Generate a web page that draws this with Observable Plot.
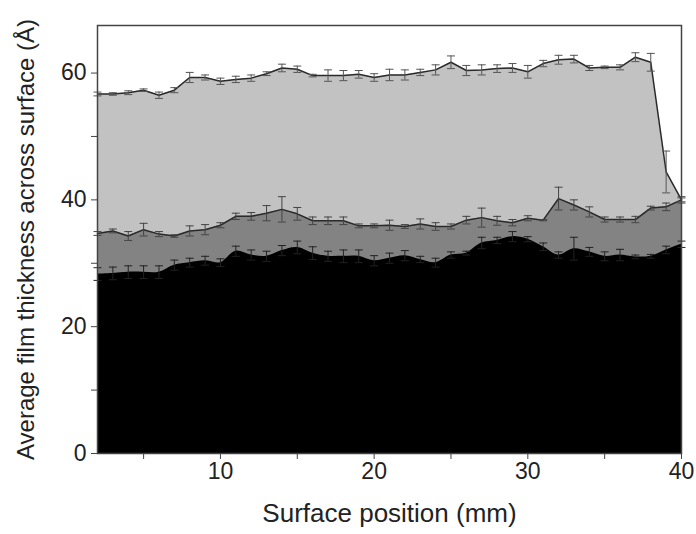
<!DOCTYPE html>
<html><head><meta charset="utf-8">
<script src="https://cdn.jsdelivr.net/npm/d3@7"></script>
<script src="https://cdn.jsdelivr.net/npm/@observablehq/plot@0.6"></script>
<style>body{margin:0;background:#fff} #chart svg{display:block}</style>
</head><body><div id="chart"></div>
<script>
const positions = [2,3,4,5,6,7,8,9,10,11,12,13,14,15,16,17,18,19,20,21,22,23,24,25,26,27,28,29,30,31,32,33,34,35,36,37,38,39,40];
const totalValues = [56.7,56.7,56.9,57.3,56.5,57.3,59.3,59.3,58.7,59.0,59.2,59.9,60.8,60.6,59.6,59.6,59.6,59.8,59.3,59.7,59.7,60.1,60.5,61.7,60.4,60.5,60.7,60.8,60.2,61.5,62.1,62.2,60.8,60.9,60.9,62.5,61.7,44.4,40.0];
const totalErrors = [0.3,0.2,0.3,0.2,0.5,0.4,0.8,0.4,0.5,0.5,0.5,0.3,0.6,0.5,0.2,0.9,0.8,0.6,0.6,0.9,0.8,0.5,0.8,1.0,0.8,0.8,0.6,0.7,1.0,0.5,0.7,0.6,0.4,0.2,0.4,0.7,1.4,3.3,0.3];
const middleValues = [34.7,35.1,34.3,35.3,34.6,34.3,35.1,35.3,36.0,37.4,37.4,37.9,38.5,37.8,36.7,36.7,36.7,35.9,35.9,36.0,35.8,36.2,35.8,35.8,36.8,37.2,36.7,36.4,37.1,36.8,40.2,39.2,38.1,36.9,36.9,36.9,38.7,38.9,40.0];
const middleErrors = [0.3,0.3,0.7,1.0,0.4,0.2,0.8,0.8,0.4,0.5,0.6,1.2,2.0,1.0,0.6,0.6,0.6,0.3,0.3,0.8,0.3,0.8,0.6,0.4,0.6,1.5,0.7,0.5,0.4,0.1,1.8,0.8,0.8,0.4,0.4,0.5,0.3,0.6,0.5];
const bottomValues = [28.3,28.4,28.6,28.6,28.6,29.7,30.1,30.4,30.1,31.9,31.3,31.1,32.0,32.5,31.6,31.1,31.1,31.1,30.4,30.8,31.2,30.6,30.1,31.3,31.6,33.2,33.6,34.2,33.8,32.6,31.3,32.3,31.8,31.1,31.3,31.0,31.1,32.1,33.0];
const bottomErrors = [1.0,1.0,1.0,1.0,1.0,0.8,0.7,0.7,0.6,0.8,0.8,0.8,0.8,1.0,1.0,0.8,1.0,1.0,0.8,0.8,0.8,0.5,0.7,0.5,0.3,0.9,0.5,0.8,0.4,0.6,0.5,1.8,0.7,0.7,0.9,0.3,0.3,0.6,0.5];
const xTicks = [10,20,30,40];
const xMinorTicks = [5,15,25,35];
const yTicks = [0,20,40,60];
const yMinorTicks = [10,30,50];
const xTitle = "Surface position (mm)";
const yTitle = "Average film thickness across surface (Å)";

const rowsOf = (vals, errs) => positions.map((x, i) => ({x, y: vals[i], e: errs[i]}));
const totalRows = rowsOf(totalValues, totalErrors);
const middleRows = rowsOf(middleValues, middleErrors);
const bottomRows = rowsOf(bottomValues, bottomErrors);
const capW = 0.26;

function errMarks(rows, color) {
  return [
    Plot.ruleX(rows, {x: "x", y1: d => d.y - d.e, y2: d => d.y + d.e, stroke: color, strokeWidth: 1}),
    Plot.link(rows, {x1: d => d.x - capW, x2: d => d.x + capW, y1: d => d.y + d.e, y2: d => d.y + d.e, stroke: color, strokeWidth: 1}),
    Plot.link(rows, {x1: d => d.x - capW, x2: d => d.x + capW, y1: d => d.y - d.e, y2: d => d.y - d.e, stroke: color, strokeWidth: 1})
  ];
}

const chart = Plot.plot({
  width: 696,
  height: 534,
  marginLeft: 97,
  marginRight: 15,
  marginTop: 25,
  marginBottom: 81,
  style: {fontFamily: "'Liberation Sans', Arial, sans-serif", fontSize: "23px", color: "#222", background: "#fff"},
  x: {domain: [2, 40]},
  y: {domain: [0, 67.5]},
  marks: [
    Plot.areaY(totalRows, {x: "x", y: "y", fill: "#c2c2c2"}),
    Plot.areaY(middleRows, {x: "x", y: "y", fill: "#838383"}),
    Plot.areaY(bottomRows, {x: "x", y: "y", fill: "#000", curve: "catmull-rom"}),
    Plot.line(totalRows, {x: "x", y: "y", stroke: "#2a2a2a", strokeWidth: 1.5}),
    Plot.line(middleRows, {x: "x", y: "y", stroke: "#2a2a2a", strokeWidth: 1.5}),
    ...errMarks(totalRows, "#555"),
    ...errMarks(middleRows, "#444"),
    ...errMarks(bottomRows, "#222"),
    Plot.frame({stroke: "#444", strokeWidth: 1.5}),
    Plot.axisX(xTicks, {tickSize: 6, tickPadding: 3, stroke: "#444", fontSize: 23, label: null}),
    Plot.axisX(xMinorTicks, {tickSize: 6, tickFormat: () => "", stroke: "#444", label: null}),
    Plot.axisY(yTicks, {tickSize: 6, tickPadding: 5, stroke: "#444", fontSize: 23, label: null}),
    Plot.axisY(yMinorTicks, {tickSize: 6, tickFormat: () => "", stroke: "#444", label: null}),
    Plot.text([xTitle], {text: d => d, frameAnchor: "bottom", dy: 68, fontSize: 26, textAnchor: "middle", fill: "#222"}),
    Plot.text([yTitle], {text: d => d, frameAnchor: "left", dx: -71, rotate: -90, fontSize: 24, textAnchor: "middle", fill: "#222"})
  ]
});
document.getElementById("chart").appendChild(chart);
</script>
</body></html>
